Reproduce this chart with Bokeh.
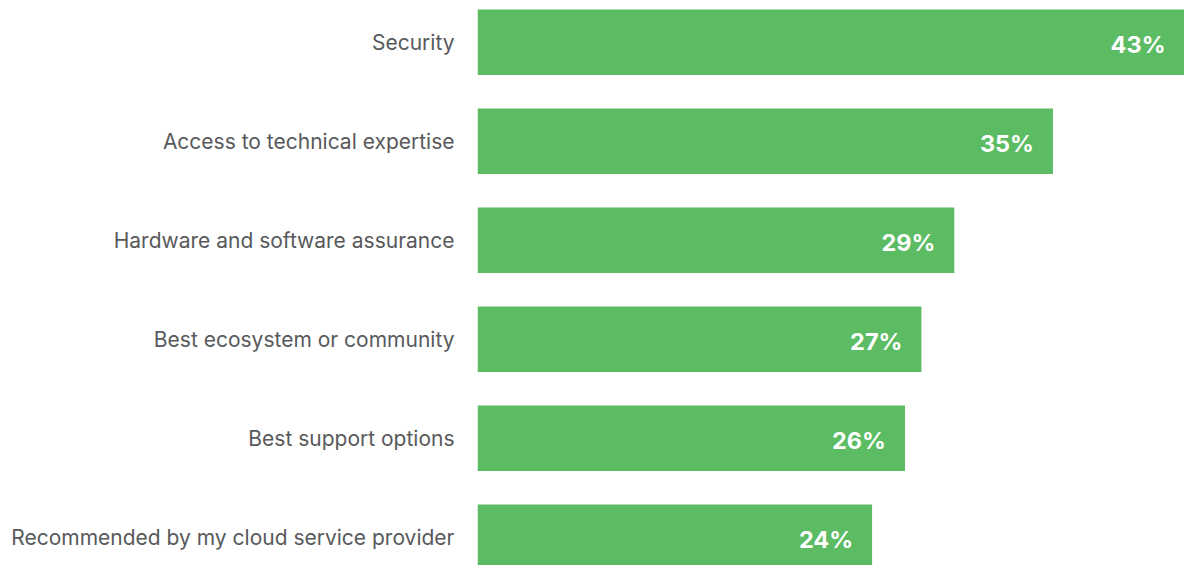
from bokeh.plotting import figure
from bokeh.models import ColumnDataSource, Range1d, FixedTicker
from bokeh.core.properties import value
from bokeh.embed import file_html
from bokeh.resources import INLINE

categories = [
    "Security",
    "Access to technical expertise",
    "Hardware and software assurance",
    "Best ecosystem or community",
    "Best support options",
    "Recommended by my cloud service provider",
]
values = [43, 35, 29, 27, 26, 24]
value_labels = ["43%", "35%", "29%", "27%", "26%", "24%"]

n = len(categories)
pos = [n - 1 - i for i in range(n)]

src = ColumnDataSource(dict(y=pos, v=values, lab=value_labels, cat=categories))

p = figure(width=1184, height=565, output_backend="svg", toolbar_location=None,
           x_range=Range1d(0, 43), y_range=Range1d(-0.2854, 5.4217),
           min_border_left=477, min_border_right=0, min_border_top=0, min_border_bottom=0)

p.hbar(y="y", left=0, right="v", height=0.662, source=src,
       fill_color="#5bbc63", line_color=None)

p.text(x="v", y="y", text="lab", source=src, x_offset=-19, y_offset=2,
       text_align="right", text_baseline="middle", text_color="white",
       text_font=value("Inter"), text_font_style="bold", text_font_size="23.5px")

p.xaxis.visible = False
p.xgrid.visible = False
p.ygrid.visible = False
p.outline_line_color = None

ya = p.yaxis[0]
ya.ticker = FixedTicker(ticks=pos)
ya.major_label_overrides = {pp: c for pp, c in zip(pos, categories)}
ya.axis_line_color = None
ya.major_tick_line_color = None
ya.minor_tick_line_color = None
ya.major_tick_out = 0
ya.major_tick_in = 0
ya.major_label_standoff = 23
ya.major_label_text_font = "Inter"
ya.major_label_text_font_size = "21px"
ya.major_label_text_color = "#58595b"

open("out.html", "w").write(file_html(p, INLINE))
